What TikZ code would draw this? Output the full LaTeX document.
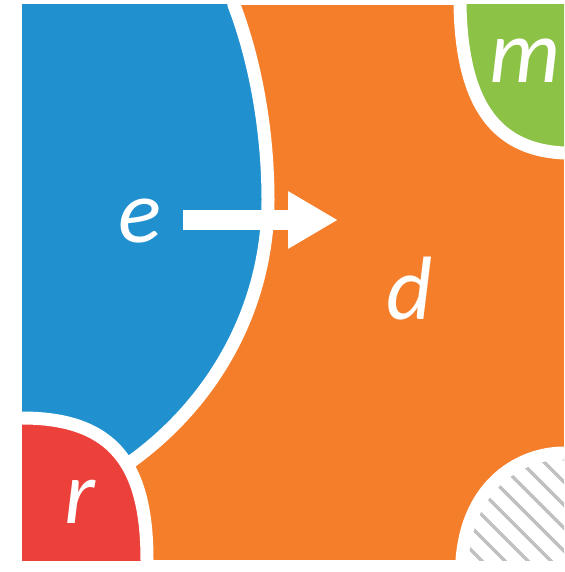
\documentclass[tikz,border=0pt]{standalone}
\usepackage{fontspec}
\setmainfont{Carlito}
\usetikzlibrary{arrows.meta}
\definecolor{cblue}{RGB}{32,144,207}
\definecolor{corange}{RGB}{245,126,43}
\definecolor{cred}{RGB}{236,65,58}
\definecolor{cgreen}{RGB}{140,194,69}
\definecolor{cstripe}{RGB}{192,192,192}
\begin{document}
\begin{tikzpicture}[x=1pt,y=-1pt,
  band/.style={draw=white,line width=13pt},
  lbl/.style={text=white,font=\fontsize{90}{90}\selectfont\itshape,inner sep=0pt,anchor=base}]
\useasboundingbox (0,0) rectangle (564,572);
\fill[white] (0,0) rectangle (564,572);
\begin{scope}
  \clip (22,5) rectangle (564,560);
  \fill[corange] (22,5) rectangle (564,560);
  % blue region
  \fill[cblue] (0,-10) -- (232,-10) -- (234,5) .. controls (255,60) and (268,130) .. (268,200)
     .. controls (268,300) and (220,400) .. (125,466) -- (100,482) -- (0,482) -- cycle;
  \draw[band] (232,-10) -- (234,5) .. controls (255,60) and (268,130) .. (268,200)
     .. controls (268,300) and (220,400) .. (125,466) -- (105,480);
  % red region
  \fill[cred] (0,418) -- (22,418) .. controls (115,418) and (147,466) .. (147,560) -- (147,600) -- (0,600) -- cycle;
  \draw[band] (0,418) -- (22,418) .. controls (115,418) and (147,466) .. (147,560) -- (147,600);
  % green region
  \fill[cgreen] (460,-10) -- (460,5) .. controls (462,110) and (500,150) .. (564,153) -- (600,153) -- (600,-10) -- cycle;
  \draw[band] (460,-10) -- (460,5) .. controls (462,110) and (500,150) .. (564,153) -- (600,153);
  % hatched region
  \begin{scope}
    \clip (462,600) -- (462,560) .. controls (468,482) and (522,453) .. (564,453) -- (600,453) -- (600,600) -- cycle;
    \fill[white] (440,440) rectangle (600,600);
    \foreach \k in {-8,...,5} {
      \pgfmathsetmacro{\c}{36+23*\k}
      \draw[cstripe,line width=3.5pt] (\c+420,420) -- (\c+600,600);
    }
  \end{scope}
  \draw[band] (462,600) -- (462,560) .. controls (468,482) and (522,453) .. (564,453) -- (600,453);
\end{scope}
% arrow
\coordinate (arrS) at (183,220);
\coordinate (arrE) at (338,220);
\draw[white,line width=20pt,-{Triangle[length=50pt,width=54pt]}] (arrS) -- (arrE);
% labels
\node[lbl] (e) at (140,242) {e};
\node[lbl] (d) at (410,319) {d};
\node[lbl] (r) at (80,523) {r};
\node[lbl] (m) at (525,83) {m};
\end{tikzpicture}
\end{document}
